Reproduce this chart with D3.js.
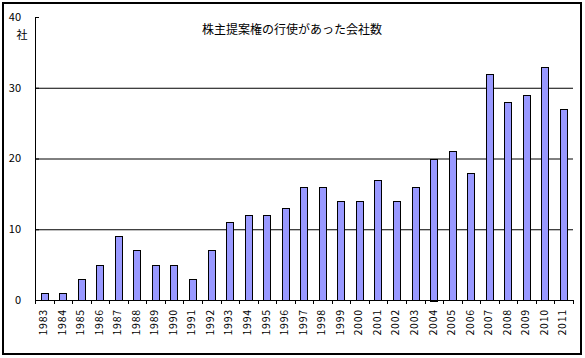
<!DOCTYPE html>
<html><head><meta charset="utf-8">
<script src="https://cdn.jsdelivr.net/npm/d3@7"></script>
<style>body{margin:0;background:#fff}svg{display:block}</style>
</head><body>
<script>
const years = ["1983","1984","1985","1986","1987","1988","1989","1990","1991","1992","1993","1994","1995","1996","1997","1998","1999","2000","2001","2002","2003","2004","2005","2006","2007","2008","2009","2010","2011"];
const counts = [1,1,3,5,9,7,5,5,3,7,11,12,12,13,16,16,14,14,17,14,16,20,21,18,32,28,29,33,27];
const yTicks = [0,10,20,30,40];
const title = "株主提案権の行使があった会社数";
const unitLabel = "社";

(function(){
const W = 585, H = 358;
const svg = d3.select("body").append("svg").attr("width", W).attr("height", H);
const font = "'Noto Sans CJK JP', sans-serif";

svg.append("rect").attr("x", 3).attr("y", 3).attr("width", 578).attr("height", 351)
  .attr("fill", "#fff").attr("stroke", "#000").attr("stroke-width", 2);

const pL = 35, pR = 573, pT = 17, pB = 300;
const x = d3.scaleBand().domain(years).range([pL, pR]).paddingInner(0.6).paddingOuter(0.3);
const xb = d3.scaleBand().domain(years).range([pL, pR]);
const y = d3.scaleLinear().domain([0, 40]).range([pB, pT]);

svg.append("g").selectAll("line").data(yTicks.filter(d => d > 0 && d < 40)).join("line")
  .attr("x1", pL).attr("x2", pR).attr("y1", d => y(d) + 0.5).attr("y2", d => y(d) + 0.5)
  .attr("stroke", "#000").attr("stroke-width", 1);

svg.append("g").selectAll("rect").data(years).join("rect")
  .attr("x", d => Math.round(x(d)) + 0.5)
  .attr("y", (d, i) => Math.round(y(counts[i])) + 0.5)
  .attr("width", Math.round(x.bandwidth()))
  .attr("height", (d, i) => Math.round(pB - y(counts[i])))
  .attr("fill", "#9999FF").attr("stroke", "#000").attr("stroke-width", 1);

svg.append("line").attr("x1", pL + 0.5).attr("x2", pL + 0.5).attr("y1", pT).attr("y2", pB)
  .attr("stroke", "#000");
svg.append("g").selectAll("line").data(yTicks).join("line")
  .attr("x1", pL).attr("x2", pL + 4).attr("y1", d => y(d) + 0.5).attr("y2", d => y(d) + 0.5)
  .attr("stroke", "#000");
svg.append("g").selectAll("text").data(yTicks).join("text")
  .attr("x", 21).attr("y", d => y(d)).attr("dy", "0.35em").attr("text-anchor", "end")
  .attr("font-family", font).attr("font-size", 11).text(d => d);
svg.append("text").attr("x", 22).attr("y", 35).attr("dy", "0.35em").attr("text-anchor", "middle")
  .attr("font-family", font).attr("font-size", 11).text(unitLabel);

svg.append("line").attr("x1", pL).attr("x2", pR).attr("y1", pB + 0.5).attr("y2", pB + 0.5)
  .attr("stroke", "#000");
const bounds = years.map(d => xb(d)).concat([pR]);
svg.append("g").selectAll("line").data(bounds).join("line")
  .attr("x1", d => Math.round(d) + 0.5).attr("x2", d => Math.round(d) + 0.5)
  .attr("y1", pB).attr("y2", pB + 4).attr("stroke", "#000");
svg.append("g").selectAll("text").data(years).join("text")
  .attr("transform", d => `translate(${xb(d) + xb.bandwidth() / 2 - 1},309) rotate(-90)`)
  .attr("dy", "0.35em").attr("text-anchor", "end").attr("letter-spacing", 0.8)
  .attr("font-family", font).attr("font-size", 10.5).text(d => d);

svg.append("text").attr("x", 292).attr("y", 30).attr("dy", "0.35em").attr("text-anchor", "middle")
  .attr("font-family", font).attr("font-size", 12).text(title);
})();
</script>
</body></html>
